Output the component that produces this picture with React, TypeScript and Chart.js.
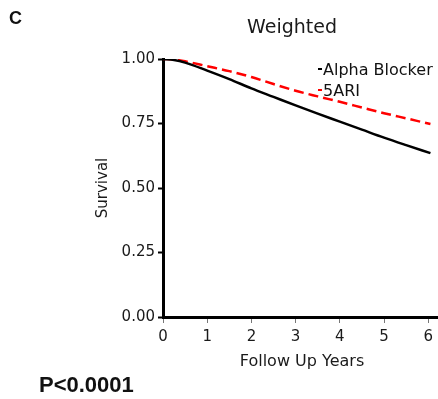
import React, { useEffect, useRef } from "react";
import { Chart, registerables } from "chart.js";

Chart.register(...registerables);

const years = [0, 0.25, 0.5, 1, 1.5, 2, 2.5, 3, 3.5, 4, 4.5, 5, 5.5, 6.05];
const alphaBlocker = [1.0, 0.996, 0.986, 0.955, 0.922, 0.886, 0.853, 0.82, 0.788, 0.757, 0.726, 0.695, 0.666, 0.635];
const fiveARI = [1.0, 0.998, 0.991, 0.972, 0.953, 0.93, 0.903, 0.877, 0.855, 0.834, 0.812, 0.79, 0.77, 0.748];
const seriesNames = ["Alpha Blocker", "5ARI"];
const yTicks = [0, 0.25, 0.5, 0.75, 1.0];
const xTicks = [0, 1, 2, 3, 4, 5, 6];

const textPlugin = {
  id: "annotText",
  afterDraw(chart: any) {
    const ctx = chart.ctx;
    const area = chart.chartArea;
    ctx.save();
    ctx.fillStyle = "#111";
    ctx.textBaseline = "middle";
    // Panel letter
    ctx.font = "bold 18px 'Liberation Sans', Arial, sans-serif";
    ctx.textAlign = "left";
    ctx.fillText("C", 9, 19);
    // Title
    ctx.font = "19px 'DejaVu Sans', sans-serif";
    ctx.textAlign = "center";
    ctx.fillStyle = "#1a1a1a";
    ctx.fillText("Weighted", 292, 28);
    // Axis titles
    ctx.font = "16px 'DejaVu Sans', sans-serif";
    ctx.fillText("Follow Up Years", 302, 362);
    ctx.save();
    ctx.translate(103, (area.top + area.bottom) / 2);
    ctx.rotate(-Math.PI / 2);
    ctx.font = "15px 'DejaVu Sans', sans-serif";
    ctx.fillText("Survival", 0, 0);
    ctx.restore();
    // Legend
    ctx.textAlign = "left";
    ctx.font = "16px 'DejaVu Sans', sans-serif";
    ctx.fillStyle = "#111";
    ctx.fillText(seriesNames[0], 323, 71);
    ctx.fillText(seriesNames[1], 323, 92);
    ctx.fillStyle = "#000";
    ctx.fillRect(318, 68, 4, 2);
    ctx.fillStyle = "#ff0000";
    ctx.fillRect(318, 89, 4, 2);
    // P value
    ctx.fillStyle = "#111";
    ctx.font = "bold 22px 'Liberation Sans', Arial, sans-serif";
    ctx.fillText("P<0.0001", 39, 386);
    ctx.restore();
  },
};

export default function App() {
  const ref = useRef<HTMLCanvasElement>(null);
  useEffect(() => {
    const canvas = ref.current!;
    const chart = new Chart(canvas, {
      type: "line",
      data: {
        datasets: [
          {
            label: seriesNames[0],
            data: years.map((x, i) => ({ x, y: alphaBlocker[i] })),
            borderColor: "#000",
            borderWidth: 2.5,
            pointRadius: 0,
            cubicInterpolationMode: "monotone",
          },
          {
            label: seriesNames[1],
            data: years.map((x, i) => ({ x, y: fiveARI[i] })),
            borderColor: "#ff0000",
            borderWidth: 2.5,
            borderDash: [10, 5],
            pointRadius: 0,
            cubicInterpolationMode: "monotone",
          },
        ],
      },
      options: {
        animation: false,
        responsive: false,
        layout: { padding: { top: 59, left: 0, right: 0, bottom: 0 } },
        plugins: { legend: { display: false }, title: { display: false }, tooltip: { enabled: false } },
        scales: {
          x: {
            type: "linear",
            min: 0,
            max: 6.2,
            afterBuildTicks: (s: any) => {
              s.ticks = xTicks.map((v) => ({ value: v }));
            },
            afterFit: (s: any) => {
              s.height = 82;
            },
            ticks: {
              color: "#1a1a1a",
              font: { family: "'DejaVu Sans', sans-serif", size: 15 },
              padding: 5,
              callback: (v: any) => String(v),
            },
            grid: { drawOnChartArea: false, drawTicks: true, tickLength: 6, tickColor: "#777", tickWidth: 1 },
            border: { display: true, color: "#000", width: 3 },
          },
          y: {
            type: "linear",
            min: 0,
            max: 1,
            afterBuildTicks: (s: any) => {
              s.ticks = yTicks.map((v) => ({ value: v }));
            },
            afterFit: (s: any) => {
              s.width = 163;
            },
            ticks: {
              color: "#1a1a1a",
              font: { family: "'DejaVu Sans', sans-serif", size: 15 },
              padding: 3,
              callback: (v: any) => Number(v).toFixed(2),
            },
            grid: { drawOnChartArea: false, drawTicks: true, tickLength: 5, tickColor: "#000", tickWidth: 2 },
            border: { display: true, color: "#000", width: 3 },
          },
        },
      },
      plugins: [textPlugin],
    });
    return () => chart.destroy();
  }, []);
  return (
    <div style={{ position: "absolute", left: 0, top: 0, width: 438, height: 399, background: "#fff" }}>
      <canvas ref={ref} width={438} height={399} style={{ display: "block" }} />
    </div>
  );
}
